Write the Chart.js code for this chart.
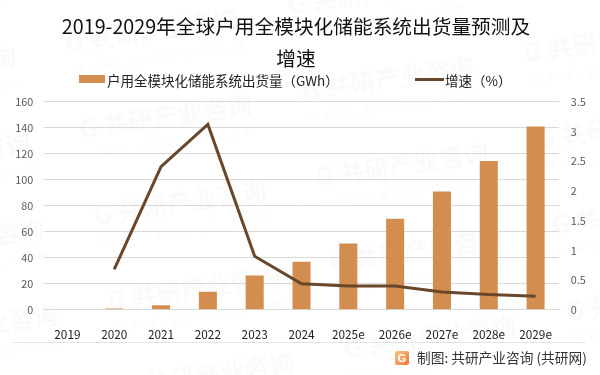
<!DOCTYPE html>
<html lang="zh-CN">
<head>
<meta charset="UTF-8">
<title>2019-2029年全球户用全模块化储能系统出货量预测及增速</title>
<script src="https://cdn.jsdelivr.net/npm/chart.js"></script>
<style>
    html, body { margin: 0; padding: 0; background: #fff; overflow: hidden; }
    #wrap { position: relative; width: 600px; height: 375px; font-family: "Noto Sans CJK SC", "Noto Sans", sans-serif; }
    canvas { display: block; }
    #logo { position: absolute; left: 395px; top: 351px; width: 14px; height: 14px; border-radius: 2px;
            background: linear-gradient(135deg, #fbc77a, #f0743c); color: #fff;
            font: bold 11px/14px "Liberation Sans"; text-align: center; }
    #source { position: absolute; left: 417px; top: 347px; font-size: 13.7px; line-height: 20px; color: #333; white-space: nowrap; }
    #rule { position: absolute; left: 13px; top: 342px; width: 573px; height: 1px; background: #e4e4e4; }
    .swatch { position: absolute; }
    .key { position: absolute; top: 70px; font-size: 13.5px; line-height: 20px; color: #222; white-space: nowrap; }
</style>
</head>
<body>
<div id="wrap">
    <canvas id="chart" width="600" height="375"></canvas>
    <div class="swatch" style="left:79px;top:75px;width:26px;height:8px;background:#d28d4f"></div>
    <div class="key" id="key1" style="left:107px"></div>
    <div class="swatch" style="left:415px;top:78px;width:29px;height:3px;background:#69472a"></div>
    <div class="key" id="key2" style="left:445px"></div>
    <div id="rule"></div>
    <div id="logo">G</div>
    <div id="source">制图: 共研产业咨询 (共研网)</div>
</div>
<script>
const titleLines = ['2019-2029年全球户用全模块化储能系统出货量预测及', '增速'];
const years = ['2019', '2020', '2021', '2022', '2023', '2024', '2025e', '2026e', '2027e', '2028e', '2029e'];
const shipments = [null, 1, 3.5, 14, 26.5, 37, 51, 70, 91, 114.5, 141];
const growth = [null, 0.68, 2.41, 3.12, 0.9, 0.44, 0.4, 0.4, 0.3, 0.26, 0.23];
const shipmentsLabel = '户用全模块化储能系统出货量（GWh）';
const growthLabel = '增速（%）';
const fontFamily = '"Noto Sans CJK SC", "Noto Sans", sans-serif';

document.getElementById('key1').textContent = shipmentsLabel;
document.getElementById('key2').textContent = growthLabel;

// faint repeated site watermark behind the plot
const watermark = {
    id: 'watermark',
    beforeDraw(chart) {
        const ctx = chart.ctx;
        ctx.save();
        ctx.fillStyle = 'rgba(130,130,130,0.045)';
        for (let i = -2; i < 5; i++) {
            for (let j = -3; j < 5; j++) {
                ctx.save();
                ctx.translate(105 + i * 222 + j * 14, 135 - i * 38 + j * 86);
                ctx.rotate(-0.145);
                ctx.font = 'bold 25px ' + fontFamily;
                ctx.fillText('G', -24, 0);
                ctx.fillText('共研产业咨询', 0, 0);
                ctx.font = '13px ' + fontFamily;
                ctx.fillText('w  w  w  .  g  o  n  y  n  .  c  o  m', -22, 22);
                ctx.restore();
            }
        }
        ctx.restore();
    }
};

new Chart(document.getElementById('chart'), {
    type: 'bar',
    plugins: [watermark],
    data: {
        labels: years,
        datasets: [
            {
                type: 'line',
                label: growthLabel,
                data: growth,
                yAxisID: 'y1',
                borderColor: '#69472a',
                backgroundColor: '#69472a',
                borderWidth: 3,
                pointRadius: 0,
                tension: 0,
                order: 1
            },
            {
                label: shipmentsLabel,
                data: shipments,
                yAxisID: 'y',
                backgroundColor: '#d28d4f',
                barPercentage: 0.385,
                categoryPercentage: 1,
                order: 2
            }
        ]
    },
    options: {
        responsive: false,
        animation: false,
        layout: { padding: { left: 0, right: 8, top: 11, bottom: 23 } },
        plugins: {
            tooltip: { enabled: false },
            legend: { display: false },
            title: {
                display: true,
                text: titleLines,
                color: '#111',
                font: { family: fontFamily, size: 19.7, weight: 'normal', lineHeight: 1.62 },
                padding: { top: 0, bottom: 27 }
            }
        },
        scales: {
            x: {
                grid: { display: false },
                border: { color: '#d9d9d9' },
                ticks: { color: '#222', font: { family: fontFamily, size: 11.8 }, maxRotation: 0, autoSkip: false, padding: 10 }
            },
            y: {
                min: 0, max: 160,
                afterFit(s) { s.width = 44; },
                ticks: { stepSize: 20, color: '#595959', font: { family: fontFamily, size: 10.8 }, padding: 10.7 },
                grid: { color: '#d9d9d9', drawTicks: false },
                border: { display: false }
            },
            y1: {
                position: 'right',
                min: 0, max: 3.5,
                afterFit(s) { s.width = 33; },
                ticks: {
                    stepSize: 0.5,
                    color: '#595959',
                    font: { family: fontFamily, size: 10.8 },
                    padding: 11.7,
                    callback: v => String(v)
                },
                grid: { display: false, drawTicks: false },
                border: { display: false }
            }
        }
    }
});
</script>
</body>
</html>
